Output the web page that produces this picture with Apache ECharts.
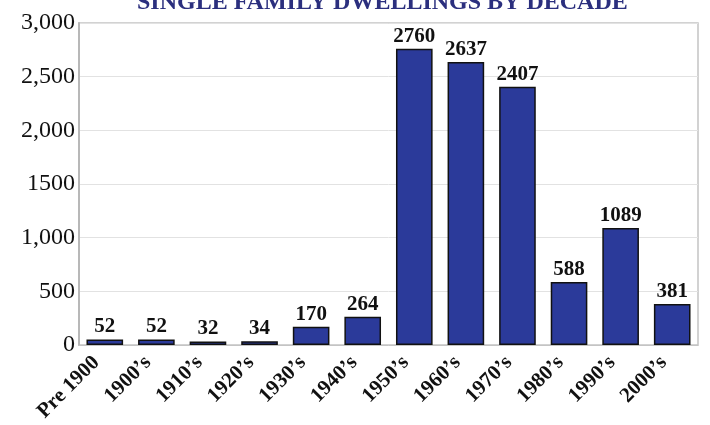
<!DOCTYPE html>
<html>
<head>
<meta charset="utf-8">
<script src="https://cdn.jsdelivr.net/npm/echarts@6/dist/echarts.min.js"></script>
<style>
  html, body { margin: 0; padding: 0; background: #fff; }
  #chart { width: 710px; height: 425px; }
</style>
</head>
<body>
<div id="chart"></div>
<script>
const decades = ['Pre 1900', '1900\u2019s', '1910\u2019s', '1920\u2019s', '1930\u2019s', '1940\u2019s',
  '1950\u2019s', '1960\u2019s', '1970\u2019s', '1980\u2019s', '1990\u2019s', '2000\u2019s']
const dwellings = [52, 52, 32, 34, 170, 264, 2760, 2637, 2407, 588, 1089, 381]
const yTicks = [0, 500, 1000, 1500, 2000, 2500, 3000]
const yTickLabels = ['0', '500', '1,000', '1500', '2,000', '2,500', '3,000']

const serif = '"Liberation Serif", "DejaVu Serif", serif'

const chart = echarts.init(document.getElementById('chart'))
chart.setOption({
  backgroundColor: '#fff',
  animation: false,
  title: {
    text: 'SINGLE FAMILY DWELLINGS BY DECADE',
    left: 132, top: -14,
    textStyle: { color: '#2b2f7e', fontFamily: serif, fontSize: 24, fontWeight: 'bold' },
  },
  grid: { left: 79, right: 12, top: 23, bottom: 80, show: true, borderColor: '#c4c4c4', borderWidth: 1.5 },
  xAxis: {
    type: 'category', data: decades,
    axisLine: { lineStyle: { color: '#c4c4c4' } },
    axisTick: { show: false },
    axisLabel: {
      color: '#111', fontFamily: serif, fontSize: 21, fontWeight: 'bold',
      rotate: 45, interval: 0, margin: 6, padding: [0, 12, 0, 0],
    },
  },
  yAxis: {
    type: 'value', min: 0, max: 3000, interval: 500,
    axisLine: { show: true, lineStyle: { color: '#b8b8b8', width: 2 } },
    axisTick: { show: false },
    axisLabel: {
      color: '#111', fontFamily: serif, fontSize: 24, margin: 4,
      formatter: (v) => yTickLabels[yTicks.indexOf(v)] ?? '',
    },
    splitLine: { lineStyle: { color: '#e2e2e2', width: 1 } },
  },
  series: [{
    type: 'bar', data: dwellings, barWidth: '71%',
    itemStyle: { color: '#2b3a9a', borderColor: '#111', borderWidth: 1.5 },
    label: {
      show: true, position: 'top', distance: 2,
      color: '#111', fontFamily: serif, fontSize: 21, fontWeight: 'bold',
    },
  }],
})
</script>
</body>
</html>
